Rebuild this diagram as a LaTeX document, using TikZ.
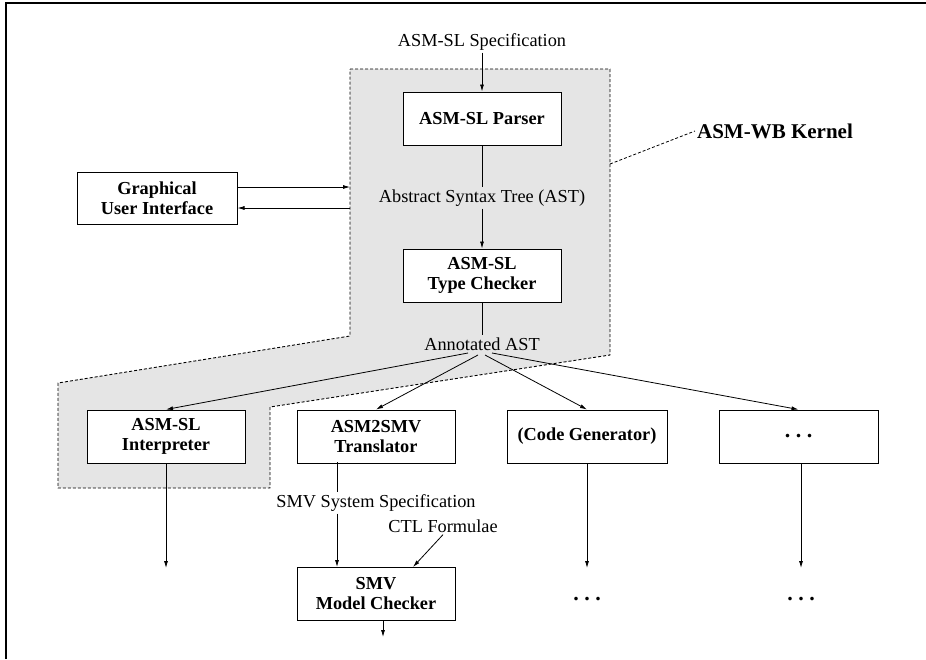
\documentclass[tikz,border=0pt]{standalone}
\usepackage{fontspec}
\setmainfont{Liberation Serif}
\usetikzlibrary{arrows.meta}
\definecolor{kernelgray}{RGB}{229,229,229}
\newcommand{\spaceddots}{{\fontsize{22}{24}\selectfont\bfseries .\kern5.5pt.\kern5.5pt.}}
\tikzset{
  box/.style={draw, line width=1pt, fill=white, minimum width=158pt, minimum height=53pt,
    inner sep=0pt, align=center, font=\fontsize{18.3}{20}\selectfont\bfseries},
  lbl/.style={inner sep=2pt, font=\fontsize{18.3}{20}\selectfont},
  conn/.style={line width=0.8pt},
  arr/.style={conn, -{Latex[length=7pt,width=4pt]}},
  region/.style={fill=kernelgray, line width=0.9pt, dash pattern=on 3pt off 2pt},
}
\begin{document}
\begin{tikzpicture}[x=1pt,y=-1pt]
\useasboundingbox (0,0) rectangle (926,659);
% page frame
\draw[line width=2pt] (6,659) -- (6,3) -- (926,3);

% kernel region
\draw[region] (350,69) -- (610,69) -- (610,355) -- (270,407) -- (270,488)
  -- (58,488) -- (58,383) -- (350,336) -- cycle;

% top chain
\node[lbl] (spec) at (482,42) {ASM-SL Specification};
\node[box] (parser) at (482,118.5) {ASM-SL Parser};
\node[lbl] (ast) at (482,198) {Abstract Syntax Tree (AST)};
\node[box] (tc) at (482,275.5) {ASM-SL\\Type Checker};
\node[lbl] (ann) at (482,344) {Annotated AST};

\draw[arr] (spec.south) -- (parser.north);
\draw[conn] (parser.south) -- (ast.north);
\draw[arr] (ast.south) -- (tc.north);
\draw[conn] (tc.south) -- (ann.north);

% GUI
\node[box, minimum width=160pt, minimum height=52pt] (gui) at (157,198) {Graphical\\User Interface};
\coordinate (g1) at (350,187);
\coordinate (g2) at (350,208);
\draw[arr] (gui.east |- g1) -- (g1);
\draw[arr] (g2) -- (gui.east |- g2);

% kernel label
\node[font=\fontsize{21}{24}\selectfont\bfseries, inner sep=2pt] (kern) at (775,131) {ASM-WB Kernel};
\coordinate (k1) at (610,164);
\draw[conn, dash pattern=on 3pt off 2pt] (k1) -- (kern.west);

% back ends
\node[box] (interp) at (166,436.5) {ASM-SL\\Interpreter};
\node[box] (trans) at (376,436.5) {ASM2SMV\\Translator};
\node[box, minimum width=160pt] (cg) at (587,436.5) {(Code Generator)};
\node[box, minimum width=159pt] (more) at (798.5,436.5) {\spaceddots};

\coordinate (f1) at (468,353);
\coordinate (f2) at (478,355);
\coordinate (f3) at (485,355);
\coordinate (f4) at (492,353);
\draw[arr] (f1) -- (interp.north);
\draw[arr] (f2) -- (trans.north);
\draw[arr] (f3) -- (cg.north);
\draw[arr] (f4) -- (more.north);

% interpreter output
\coordinate (o1) at (166,568);
\draw[arr] (interp.south) -- (o1);

% model checking path
\node[lbl] (sys) at (376,503) {SMV System Specification};
\node[lbl] (ctl) at (443,526) {CTL Formulae};
\node[box] (smv) at (376,594) {SMV\\Model Checker};
\coordinate (t1) at (337,462);
\draw[conn] (t1) -- (t1 |- sys.north);
\draw[arr] (t1 |- sys.south) -- (t1 |- smv.north);
\draw[arr] (ctl.south) -- ([xshift=37pt]smv.north);
\coordinate (o2) at (383,637);
\draw[arr] (smv.south -| o2) -- (o2);

% further outputs
\coordinate (o3) at (587,568);
\coordinate (o4) at (801,568);
\draw[arr] (cg.south) -- (o3);
\draw[arr] (more.south -| o4) -- (o4);
\node[lbl, anchor=base] (d1) at (587,600) {\spaceddots};
\node[lbl, anchor=base] (d2) at (801,600) {\spaceddots};
\end{tikzpicture}
\end{document}
